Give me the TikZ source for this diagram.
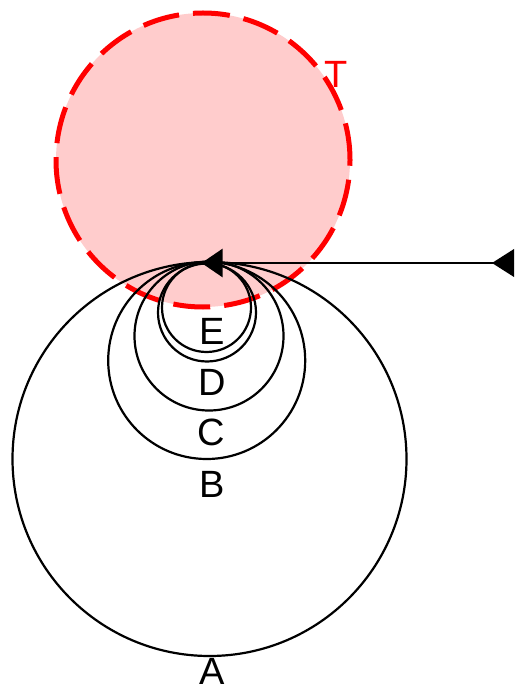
\documentclass[tikz,border=0pt]{standalone}
\usepackage{fontspec}
\setmainfont{Liberation Sans}
\usetikzlibrary{arrows.meta}
\begin{document}
\begin{tikzpicture}[x=1pt,y=-1pt,
  ring/.style={circle,draw=black,line width=2.2pt,inner sep=0pt,outer sep=0pt},
  lbl/.style={inner sep=0pt,font=\fontsize{38}{40}\selectfont},
  tcircle/.style={circle,draw=red,fill=red!20,line width=5pt,dash pattern=on 37pt off 14pt,inner sep=0pt,outer sep=0pt}]
\useasboundingbox (0,0) rectangle (515,684);
% target circle
\node[tcircle,minimum size=294pt] (T) at (203,160) {};
\node[lbl,text=red] (Tl) at (336,74.5) {T};
% nested circles
\node[ring,minimum size=394pt] (cA) at (209.5,459) {};
\node[ring,minimum size=197pt] (cB) at (206.7,360.5) {};
\node[ring,minimum size=149pt] (cC) at (209,336) {};
\node[ring,minimum size=98pt] (cD) at (207,312.5) {};
\node[ring,minimum size=89pt] (cE) at (206.5,307.5) {};
% labels
\node[lbl] (lE) at (212,331.5) {E};
\node[lbl] (lD) at (212,382.5) {D};
\node[lbl] (lC) at (211,432.5) {C};
\node[lbl] (lB) at (212.5,484) {B};
\node[lbl] (lA) at (212.5,671) {A};
% arrow
\coordinate (src) at (514,263);
\coordinate (tip) at (201.5,263);
\draw[line width=2.4pt,-{Triangle[length=21pt,width=28pt]}] (src) -- (tip);
\fill (src) -- ++(0,-14) -- ++(-22,14) -- ++(22,14) -- cycle;
\end{tikzpicture}
\end{document}
